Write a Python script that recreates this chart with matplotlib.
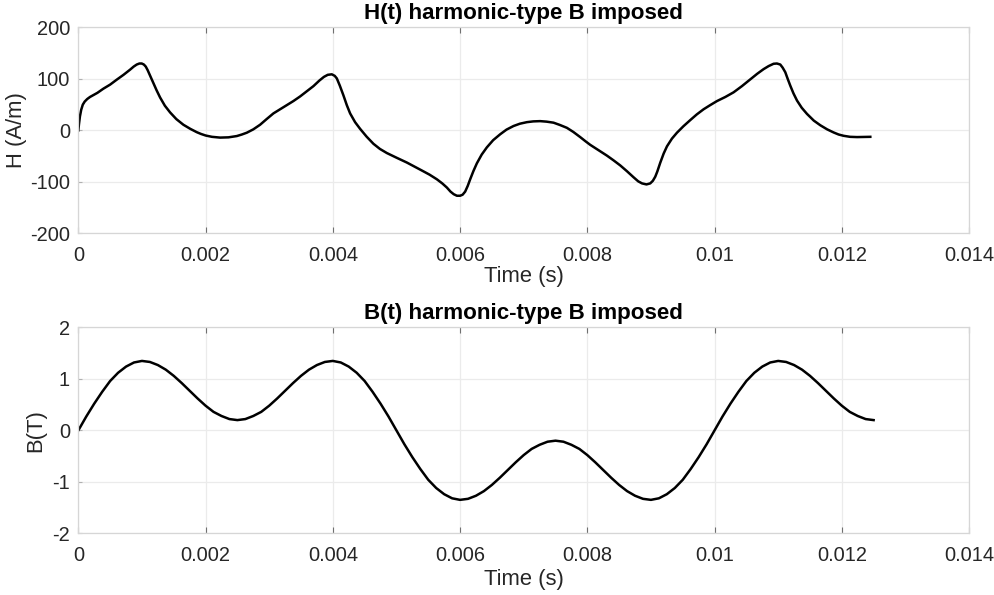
import matplotlib
matplotlib.use('Agg')
import matplotlib.pyplot as plt
import numpy as np

# ---- data ----
# H(t): time in ms, H in A/m
t_H_ms = [0.0, 0.01, 0.025, 0.045, 0.07, 0.1, 0.14, 0.184, 0.3, 0.393, 0.5, 0.604, 0.71,
          0.813, 0.87, 0.918, 0.96, 0.997, 1.03, 1.06, 1.09, 1.13, 1.179, 1.23, 1.285,
          1.36, 1.442, 1.54, 1.651, 1.76, 1.862, 1.93, 2.003, 2.1, 2.228, 2.36, 2.491,
          2.57, 2.648, 2.75, 2.857, 2.96, 3.066, 3.17, 3.277, 3.38, 3.486, 3.59, 3.695,
          3.79, 3.86, 3.92, 3.984, 4.03, 4.063, 4.11, 4.167, 4.22, 4.272, 4.35, 4.429,
          4.53, 4.638, 4.74, 4.849, 5.0, 5.164, 5.28, 5.40, 5.52, 5.635, 5.72, 5.792,
          5.85, 5.90, 5.95, 6.001, 6.04, 6.080, 6.12, 6.159, 6.21, 6.264, 6.34, 6.421,
          6.52, 6.631, 6.73, 6.840, 6.94, 7.050, 7.15, 7.259, 7.36, 7.469, 7.57, 7.679,
          7.78, 7.888, 7.97, 8.045, 8.17, 8.308, 8.41, 8.517, 8.62, 8.726, 8.80, 8.86,
          8.93, 8.989, 9.03, 9.068, 9.10, 9.146, 9.20, 9.252, 9.33, 9.409, 9.51, 9.618,
          9.72, 9.827, 9.93, 10.038, 10.17, 10.299, 10.43, 10.561, 10.67, 10.770, 10.85,
          10.928, 10.98, 11.033, 11.07, 11.112, 11.15, 11.190, 11.24, 11.296, 11.37,
          11.453, 11.56, 11.662, 11.77, 11.871, 11.95, 12.028, 12.13, 12.239, 12.34,
          12.448]
H_vals = [0, 12, 27, 40, 50, 56, 61, 65, 73, 81, 89, 98.6, 108,
          118, 124, 128, 130, 130, 128, 124, 117, 106, 93, 78, 64,
          48, 35, 22, 11, 3, -3.5, -7, -10, -12.5, -14, -13.5, -11,
          -8, -4.5, 2, 11, 22, 33, 41, 49, 57, 66, 76, 86,
          97, 104, 108, 109, 106, 101, 87, 68, 49, 33, 16, 3,
          -12, -26, -36, -44, -53, -62.5, -70, -78, -86, -95, -103, -111,
          -119, -124, -127, -127, -125, -119, -108, -95, -79, -64, -47, -33,
          -19, -7.5, 1.5, 8.5, 13, 16, 17.5, 18, 17, 15, 10.5, 5,
          -3, -13, -21, -28, -38, -49, -58, -68, -79, -91, -99, -103,
          -105, -103, -98, -90, -80, -63, -45, -31, -16, -4.5, 8, 20,
          31, 41, 49, 57, 65, 74, 86, 99, 110, 119, 125,
          129.5, 130, 128, 122, 113, 100, 87, 72, 58, 44,
          32, 19, 10, 2, -4, -8, -10.5, -12.5, -13, -12.8,
          -12.5]

# B(t): sampled every 0.125 ms from 0 to 12.5 ms, B in T
B_vals = [0.00, 0.27, 0.52, 0.75, 0.96, 1.12, 1.24, 1.32, 1.35, 1.33, 1.27, 1.18, 1.06,
          0.92, 0.77, 0.62, 0.48, 0.36, 0.28, 0.22, 0.20,
          0.22, 0.28, 0.36, 0.48, 0.62, 0.77, 0.92, 1.06, 1.18, 1.27, 1.33, 1.35, 1.32,
          1.24, 1.12, 0.96, 0.75, 0.52, 0.27, 0.00,
          -0.27, -0.52, -0.75, -0.96, -1.12, -1.24, -1.32, -1.35, -1.33, -1.27, -1.18,
          -1.06, -0.92, -0.77, -0.62, -0.48, -0.36, -0.28, -0.22, -0.20,
          -0.22, -0.28, -0.36, -0.48, -0.62, -0.77, -0.92, -1.06, -1.18, -1.27, -1.33,
          -1.35, -1.32, -1.24, -1.12, -0.96, -0.75, -0.52, -0.27, 0.00,
          0.27, 0.52, 0.75, 0.96, 1.12, 1.24, 1.32, 1.35, 1.33, 1.27, 1.18, 1.06,
          0.92, 0.77, 0.62, 0.48, 0.36, 0.28, 0.22, 0.20]
t_B_end = 0.0125

x_ticks = [0, 0.002, 0.004, 0.006, 0.008, 0.010, 0.012, 0.014]
x_ticklabels = ['0', '0.002', '0.004', '0.006', '0.008', '0.01', '0.012', '0.014']
H_ticks = [-200, -100, 0, 100, 200]
H_ticklabels = ['-200', '-100', '0', '100', '200']
B_ticks = [-2, -1, 0, 1, 2]
B_ticklabels = ['-2', '-1', '0', '1', '2']

title_H = 'H(t) harmonic-type B imposed'
title_B = 'B(t) harmonic-type B imposed'
xlabel = 'Time (s)'
ylabel_H = 'H (A/m)'
ylabel_B = 'B(T)'

# ---- style ----
plt.rcParams['font.family'] = ['Liberation Sans', 'DejaVu Sans']
plt.rcParams['axes.unicode_minus'] = False
TXT = '#262626'
FS = 14.4

fig = plt.figure(figsize=(9.94, 5.95), dpi=100)
ax1 = fig.add_axes([0.0788, 0.6079, 0.8961, 0.3459])
ax2 = fig.add_axes([0.0788, 0.1037, 0.8961, 0.3459])

t_H = np.array(t_H_ms) / 1000.0
t_B = np.linspace(0, t_B_end, len(B_vals))

ax1.plot(t_H, H_vals, color='black', lw=1.8, solid_joinstyle='round')
ax2.plot(t_B, B_vals, color='black', lw=1.8, solid_joinstyle='round')

for ax, yt, ytl, ylim, title, ylab, xpad, ypad in [
        (ax1, H_ticks, H_ticklabels, (-200, 200), title_H, ylabel_H, 1, 2.5),
        (ax2, B_ticks, B_ticklabels, (-2, 2), title_B, ylabel_B, 3, 4)]:
    ax.set_xlim(0, 0.014)
    ax.set_ylim(*ylim)
    ax.set_xticks(x_ticks)
    ax.set_xticklabels(x_ticklabels)
    ax.set_yticks(yt)
    ax.set_yticklabels(ytl)
    ax.grid(True, color='#ebebeb', lw=0.9)
    ax.set_axisbelow(True)
    for s in ax.spines.values():
        s.set_color('#d6d6d6')
        s.set_linewidth(0.9)
    ax.tick_params(axis='x', direction='in', length=4, width=0.8, color='#707070',
                   top=True, bottom=True, labelsize=FS, labelcolor=TXT, pad=9)
    ax.tick_params(axis='y', direction='in', length=3, width=0.8, color='#b0b0b0',
                   left=True, right=False, labelsize=FS, labelcolor=TXT, pad=6)
    ax.set_title(title, fontsize=16.1, fontweight='bold', color='black', pad=6)
    ax.set_xlabel(xlabel, fontsize=15.8, color=TXT, labelpad=xpad)
    ax.set_ylabel(ylab, fontsize=15.8, color=TXT, labelpad=ypad)

fig.savefig('out.png', dpi=100, facecolor='white')
